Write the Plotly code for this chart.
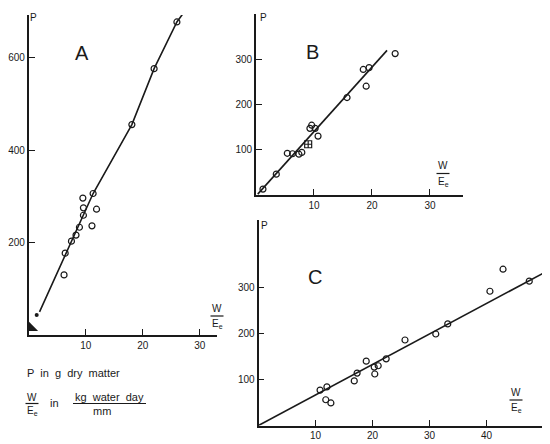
import plotly.graph_objects as go

FONT = "Liberation Sans"
INK = "#1a1a1a"

# panel A
a_x = [26.0, 22.0, 18.1, 11.3, 9.5, 9.6, 11.9, 9.6, 11.1, 8.9, 8.3, 7.5, 6.4, 6.2]
a_y = [677, 576, 455, 306, 296, 275, 272, 259, 236, 233, 216, 203, 177, 130]
a_line_x = [1.9, 11.3, 18.1, 22.0, 26.0, 27.6]
a_line_y = [50, 306, 455, 576, 677, 704]
a_dot_x = [1.4]
a_dot_y = [43]
a_corner_x = [0.5]
a_corner_y = [16]

# panel B
b_x = [24.0, 19.5, 18.5, 19.0, 15.7, 9.6, 9.3, 10.2, 10.7, 7.9, 7.4, 6.3, 5.4, 3.5, 1.2]
b_y = [312, 281, 277, 240, 215, 154, 147, 147, 130, 94, 90, 91, 92, 46, 13]
b_cross_x = [9.0]
b_cross_y = [112]
b_line_x = [0.3, 22.6]
b_line_y = [2, 319]

# panel C
c_x = [42.9, 47.5, 40.6, 33.2, 31.1, 25.7, 22.4, 18.9, 21.0, 20.3, 20.4, 17.3, 16.8, 12.0, 10.8, 11.8, 12.7]
c_y = [340, 314, 292, 221, 199, 186, 145, 140, 130, 127, 112, 114, 97, 84, 77, 56, 49]
c_line_x = [0, 49.9]
c_line_y = [0, 331]

a_xticks = [10, 20, 30]
a_yticks = [200, 400, 600]
b_xticks = [10, 20, 30]
b_yticks = [100, 200, 300]
c_xticks = [10, 20, 30, 40]
c_yticks = [100, 200, 300]

# the page body keeps its default 8px margin, so the figure is drawn 8px in
OFF = 8
W, H = 550 - OFF, 444 - OFF


def px(x, y):
    return (x - OFF) / W, 1 - (y - OFF) / H


def dom_x(x0, x1):
    return [px(x0, 0)[0], px(x1, 0)[0]]


def dom_y(y_bottom, y_top):
    return [px(0, y_bottom)[1], px(0, y_top)[1]]


fig = go.Figure()

circle = dict(symbol="circle-open", size=6, color=INK, line=dict(width=1.2, color=INK))
line = dict(color=INK, width=1.6)

fig.add_scatter(x=a_line_x, y=a_line_y, mode="lines", line=line, xaxis="x", yaxis="y")
fig.add_scatter(x=a_x, y=a_y, mode="markers", marker=circle, xaxis="x", yaxis="y")
fig.add_scatter(x=a_dot_x, y=a_dot_y, mode="markers", marker=dict(size=4, color=INK), xaxis="x", yaxis="y")
fig.add_scatter(x=a_corner_x, y=a_corner_y, mode="markers",
                marker=dict(symbol="triangle-sw", size=11, color=INK), xaxis="x", yaxis="y")

fig.add_scatter(x=b_line_x, y=b_line_y, mode="lines", line=line, xaxis="x2", yaxis="y2")
fig.add_scatter(x=b_x, y=b_y, mode="markers", marker=circle, xaxis="x2", yaxis="y2")
fig.add_scatter(x=b_cross_x, y=b_cross_y, mode="markers",
                marker=dict(symbol="square-cross-open", size=7, color=INK, line=dict(width=1.2, color=INK)),
                xaxis="x2", yaxis="y2")

fig.add_scatter(x=c_line_x, y=c_line_y, mode="lines", line=line, xaxis="x3", yaxis="y3")
fig.add_scatter(x=c_x, y=c_y, mode="markers", marker=circle, xaxis="x3", yaxis="y3")

axis_style = dict(
    showline=True, linecolor=INK, linewidth=1.6, showgrid=False, zeroline=False,
    ticks="inside", ticklen=6, tickwidth=1.3, tickcolor=INK,
    tickfont=dict(family=FONT, size=10, color=INK), automargin=False, fixedrange=True,
)

fig.update_layout(
    width=W, height=H, margin=dict(l=0, r=0, t=0, b=0),
    paper_bgcolor="white", plot_bgcolor="white", showlegend=False,
    xaxis=dict(axis_style, range=[0, 33], domain=dom_x(28.7, 216.8), anchor="y", tickvals=a_xticks),
    yaxis=dict(axis_style, range=[0, 692], domain=dom_y(335, 15), anchor="x", tickvals=a_yticks),
    xaxis2=dict(axis_style, range=[0, 35.7], domain=dom_x(256, 463), anchor="y2", tickvals=b_xticks),
    yaxis2=dict(axis_style, range=[0, 400], domain=dom_y(195, 13.7), anchor="x2", tickvals=b_yticks),
    xaxis3=dict(axis_style, range=[0, 50], domain=dom_x(258.5, 543.5), anchor="y3", tickvals=c_xticks),
    yaxis3=dict(axis_style, range=[0, 447], domain=dom_y(425.5, 220), anchor="x3", tickvals=c_yticks),
)


def label(text, x, y, size=10, anchor="center"):
    ax, ay = px(x, y)
    fig.add_annotation(text=text, x=ax, y=ay, xref="paper", yref="paper", showarrow=False,
                       xanchor=anchor, yanchor="middle",
                       font=dict(family=FONT, size=size, color=INK))


def bar(x0, x1, y):
    fx0, fy = px(x0, y)
    fx1, _ = px(x1, y)
    fig.add_shape(type="line", xref="paper", yref="paper", x0=fx0, x1=fx1, y0=fy, y1=fy,
                  line=dict(color=INK, width=1.2))


def fraction(xc, y_top, y_bar, y_bot, half=6.5):
    label("W", xc, y_top)
    bar(xc - half, xc + half, y_bar)
    label("E<sub>e</sub>", xc, y_bot)


# panel letters and axis names
label("A", 82, 53, size=20)
label("B", 312, 52, size=20)
label("C", 315, 277, size=20)
label("P", 33, 18)
label("P", 263, 17)
label("P", 264, 225)

fraction(217, 308, 316, 324)
fraction(443, 166, 173.5, 182)
fraction(516, 392, 400, 408)

# units legend
label("P  in  g  dry  matter", 25, 373, size=11, anchor="left")
fraction(32, 397, 403.5, 411)
label("in", 54, 403, size=11)
label("kg  water  day", 109, 397, size=11)
bar(73, 146, 403.5)
label("mm", 102, 411, size=11)

fig.write_html("out.html")
